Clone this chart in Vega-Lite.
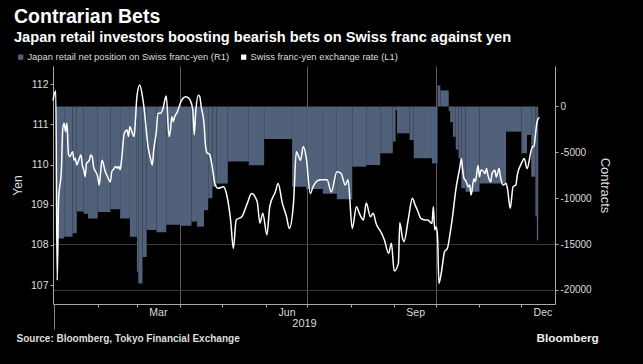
{
  "$schema": "https://vega.github.io/schema/vega-lite/v6.json",
  "width": 502,
  "height": 238,
  "autosize": {"type": "none"},
  "padding": {"left": 53, "top": 66, "right": 88, "bottom": 60},
  "background": "#000000",
  "config": {
    "view": {"stroke": null},
    "font": "Liberation Sans",
    "axis": {"labelFont": "Liberation Sans", "titleFont": "Liberation Sans", "domainColor": "#aaaaaa", "tickColor": "#aaaaaa", "labelColor": "#dddddd", "titleColor": "#dddddd", "titleFontWeight": "normal"}
  },
  "title": {
    "text": "Contrarian Bets",
    "subtitle": "Japan retail investors boosting bearish bets on Swiss franc against yen",
    "anchor": "start",
    "frame": "group",
    "dx": -39,
    "offset": 6,
    "font": "Liberation Sans",
    "fontSize": 19.5,
    "fontWeight": "bold",
    "color": "#ffffff",
    "subtitleFont": "Liberation Sans",
    "subtitleFontSize": 14.6,
    "subtitleFontWeight": "bold",
    "subtitleColor": "#ffffff",
    "subtitlePadding": 3
  },
  "datasets": {
    "positions": [
      {"start": "2019-01-02", "end": "2019-01-08", "pos": -14400},
      {"start": "2019-01-08", "end": "2019-01-14", "pos": -14200},
      {"start": "2019-01-14", "end": "2019-01-17", "pos": -13800},
      {"start": "2019-01-17", "end": "2019-01-22", "pos": -11450},
      {"start": "2019-01-22", "end": "2019-01-25", "pos": -11700},
      {"start": "2019-01-25", "end": "2019-02-01", "pos": -12200},
      {"start": "2019-02-01", "end": "2019-02-10", "pos": -11500},
      {"start": "2019-02-10", "end": "2019-02-17", "pos": -11200},
      {"start": "2019-02-17", "end": "2019-02-24", "pos": -12200},
      {"start": "2019-02-24", "end": "2019-03-01", "pos": -14200},
      {"start": "2019-03-01", "end": "2019-03-02", "pos": -18000},
      {"start": "2019-03-02", "end": "2019-03-05", "pos": -19300},
      {"start": "2019-03-05", "end": "2019-03-08", "pos": -16400},
      {"start": "2019-03-08", "end": "2019-03-15", "pos": -13450},
      {"start": "2019-03-15", "end": "2019-03-22", "pos": -13700},
      {"start": "2019-03-22", "end": "2019-04-01", "pos": -12900},
      {"start": "2019-04-01", "end": "2019-04-09", "pos": -13000},
      {"start": "2019-04-09", "end": "2019-04-13", "pos": -12550},
      {"start": "2019-04-13", "end": "2019-04-18", "pos": -13100},
      {"start": "2019-04-18", "end": "2019-04-21", "pos": -11300},
      {"start": "2019-04-21", "end": "2019-04-24", "pos": -10000},
      {"start": "2019-04-24", "end": "2019-04-27", "pos": -8740},
      {"start": "2019-04-27", "end": "2019-05-05", "pos": -8400},
      {"start": "2019-05-05", "end": "2019-05-20", "pos": -6000},
      {"start": "2019-05-20", "end": "2019-05-31", "pos": -6400},
      {"start": "2019-05-31", "end": "2019-06-20", "pos": -3550},
      {"start": "2019-06-20", "end": "2019-06-30", "pos": -8740},
      {"start": "2019-06-30", "end": "2019-07-12", "pos": -9000},
      {"start": "2019-07-12", "end": "2019-07-22", "pos": -9500},
      {"start": "2019-07-22", "end": "2019-08-02", "pos": -10100},
      {"start": "2019-08-02", "end": "2019-08-12", "pos": -6560},
      {"start": "2019-08-12", "end": "2019-08-22", "pos": -6380},
      {"start": "2019-08-22", "end": "2019-08-31", "pos": -5100},
      {"start": "2019-08-31", "end": "2019-09-02", "pos": -3830},
      {"start": "2019-09-02", "end": "2019-09-03", "pos": -400},
      {"start": "2019-09-03", "end": "2019-09-12", "pos": -2920},
      {"start": "2019-09-12", "end": "2019-09-15", "pos": -3650},
      {"start": "2019-09-15", "end": "2019-09-28", "pos": -5650},
      {"start": "2019-09-28", "end": "2019-10-02", "pos": -6200},
      {"start": "2019-10-02", "end": "2019-10-04", "pos": 2300},
      {"start": "2019-10-04", "end": "2019-10-10", "pos": 1750},
      {"start": "2019-10-10", "end": "2019-10-11", "pos": -500},
      {"start": "2019-10-11", "end": "2019-10-13", "pos": -1700},
      {"start": "2019-10-13", "end": "2019-10-15", "pos": -3300},
      {"start": "2019-10-15", "end": "2019-10-17", "pos": -4700},
      {"start": "2019-10-17", "end": "2019-10-19", "pos": -5650},
      {"start": "2019-10-19", "end": "2019-10-22", "pos": -8900},
      {"start": "2019-10-22", "end": "2019-11-01", "pos": -9300},
      {"start": "2019-11-01", "end": "2019-11-20", "pos": -8400},
      {"start": "2019-11-20", "end": "2019-12-01", "pos": -2740},
      {"start": "2019-12-01", "end": "2019-12-05", "pos": -5100},
      {"start": "2019-12-05", "end": "2019-12-08", "pos": -3100},
      {"start": "2019-12-08", "end": "2019-12-11", "pos": -7650},
      {"start": "2019-12-11", "end": "2019-12-12", "pos": -12000},
      {"start": "2019-12-12", "end": "2019-12-13", "pos": -14600}
    ],
    "fx": [
      {"date": "2018-12-31", "rate": 111.6},
      {"date": "2019-01-02", "rate": 111.84},
      {"date": "2019-01-03", "rate": 107.12},
      {"date": "2019-01-04", "rate": 109.12},
      {"date": "2019-01-06", "rate": 109.87},
      {"date": "2019-01-07", "rate": 110.9},
      {"date": "2019-01-08", "rate": 111.03},
      {"date": "2019-01-09", "rate": 110.82},
      {"date": "2019-01-10", "rate": 111.03},
      {"date": "2019-01-11", "rate": 110.28},
      {"date": "2019-01-12", "rate": 110.2},
      {"date": "2019-01-14", "rate": 110.32},
      {"date": "2019-01-15", "rate": 110.11},
      {"date": "2019-01-16", "rate": 110.16},
      {"date": "2019-01-17", "rate": 109.99},
      {"date": "2019-01-18", "rate": 110.07},
      {"date": "2019-01-20", "rate": 110.24},
      {"date": "2019-01-21", "rate": 109.99},
      {"date": "2019-01-22", "rate": 109.87},
      {"date": "2019-01-23", "rate": 109.7},
      {"date": "2019-01-24", "rate": 110.03},
      {"date": "2019-01-26", "rate": 110.11},
      {"date": "2019-01-27", "rate": 110.24},
      {"date": "2019-01-28", "rate": 110.2},
      {"date": "2019-01-29", "rate": 109.95},
      {"date": "2019-02-01", "rate": 109.7},
      {"date": "2019-02-02", "rate": 109.49},
      {"date": "2019-02-03", "rate": 109.78},
      {"date": "2019-02-04", "rate": 110.11},
      {"date": "2019-02-05", "rate": 110.03},
      {"date": "2019-02-06", "rate": 109.87},
      {"date": "2019-02-08", "rate": 109.7},
      {"date": "2019-02-10", "rate": 109.57},
      {"date": "2019-02-11", "rate": 109.82},
      {"date": "2019-02-12", "rate": 109.87},
      {"date": "2019-02-14", "rate": 109.95},
      {"date": "2019-02-15", "rate": 109.91},
      {"date": "2019-02-16", "rate": 109.95},
      {"date": "2019-02-17", "rate": 109.87},
      {"date": "2019-02-18", "rate": 110.11},
      {"date": "2019-02-20", "rate": 110.78},
      {"date": "2019-02-22", "rate": 110.86},
      {"date": "2019-02-23", "rate": 110.7},
      {"date": "2019-02-24", "rate": 110.95},
      {"date": "2019-02-25", "rate": 110.86},
      {"date": "2019-02-27", "rate": 110.7},
      {"date": "2019-02-28", "rate": 111.15},
      {"date": "2019-03-01", "rate": 111.69},
      {"date": "2019-03-03", "rate": 111.98},
      {"date": "2019-03-05", "rate": 111.69},
      {"date": "2019-03-06", "rate": 111.44},
      {"date": "2019-03-07", "rate": 111.11},
      {"date": "2019-03-09", "rate": 110.45},
      {"date": "2019-03-11", "rate": 110.11},
      {"date": "2019-03-12", "rate": 109.99},
      {"date": "2019-03-13", "rate": 110.36},
      {"date": "2019-03-15", "rate": 110.86},
      {"date": "2019-03-16", "rate": 111.28},
      {"date": "2019-03-18", "rate": 111.28},
      {"date": "2019-03-20", "rate": 111.44},
      {"date": "2019-03-21", "rate": 111.61},
      {"date": "2019-03-22", "rate": 111.71},
      {"date": "2019-03-24", "rate": 110.7},
      {"date": "2019-03-25", "rate": 110.86},
      {"date": "2019-03-26", "rate": 111.19},
      {"date": "2019-03-27", "rate": 111.07},
      {"date": "2019-03-28", "rate": 111.19},
      {"date": "2019-03-30", "rate": 111.32},
      {"date": "2019-04-01", "rate": 111.53},
      {"date": "2019-04-03", "rate": 111.65},
      {"date": "2019-04-05", "rate": 111.69},
      {"date": "2019-04-06", "rate": 111.68},
      {"date": "2019-04-08", "rate": 111.61},
      {"date": "2019-04-10", "rate": 111.36},
      {"date": "2019-04-11", "rate": 110.74},
      {"date": "2019-04-12", "rate": 111.28},
      {"date": "2019-04-14", "rate": 111.73},
      {"date": "2019-04-15", "rate": 111.69},
      {"date": "2019-04-16", "rate": 111.44},
      {"date": "2019-04-18", "rate": 111.03},
      {"date": "2019-04-19", "rate": 110.5},
      {"date": "2019-04-20", "rate": 110.3},
      {"date": "2019-04-22", "rate": 110.25},
      {"date": "2019-04-24", "rate": 109.92},
      {"date": "2019-04-26", "rate": 109.49},
      {"date": "2019-04-28", "rate": 109.41},
      {"date": "2019-05-02", "rate": 109.45},
      {"date": "2019-05-04", "rate": 109.28},
      {"date": "2019-05-07", "rate": 108.62},
      {"date": "2019-05-09", "rate": 107.91},
      {"date": "2019-05-11", "rate": 108.62},
      {"date": "2019-05-15", "rate": 108.7},
      {"date": "2019-05-19", "rate": 109.04},
      {"date": "2019-05-22", "rate": 109.28},
      {"date": "2019-05-26", "rate": 109.08},
      {"date": "2019-05-28", "rate": 108.54},
      {"date": "2019-05-30", "rate": 108.79},
      {"date": "2019-06-02", "rate": 108.25},
      {"date": "2019-06-04", "rate": 108.95},
      {"date": "2019-06-08", "rate": 109.32},
      {"date": "2019-06-10", "rate": 109.53},
      {"date": "2019-06-13", "rate": 109.04},
      {"date": "2019-06-16", "rate": 108.7},
      {"date": "2019-06-18", "rate": 108.41},
      {"date": "2019-06-21", "rate": 109.04},
      {"date": "2019-06-23", "rate": 110.32},
      {"date": "2019-06-26", "rate": 110.11},
      {"date": "2019-06-28", "rate": 110.45},
      {"date": "2019-06-30", "rate": 110.2},
      {"date": "2019-07-03", "rate": 109.28},
      {"date": "2019-07-05", "rate": 109.45},
      {"date": "2019-07-10", "rate": 109.62},
      {"date": "2019-07-15", "rate": 109.62},
      {"date": "2019-07-18", "rate": 109.32},
      {"date": "2019-07-22", "rate": 109.82},
      {"date": "2019-07-25", "rate": 109.78},
      {"date": "2019-07-28", "rate": 109.49},
      {"date": "2019-07-30", "rate": 109.62},
      {"date": "2019-08-02", "rate": 108.41},
      {"date": "2019-08-05", "rate": 108.95},
      {"date": "2019-08-07", "rate": 108.79},
      {"date": "2019-08-10", "rate": 108.62},
      {"date": "2019-08-12", "rate": 109.04},
      {"date": "2019-08-15", "rate": 108.7},
      {"date": "2019-08-17", "rate": 108.79},
      {"date": "2019-08-19", "rate": 108.54},
      {"date": "2019-08-23", "rate": 108.29},
      {"date": "2019-08-25", "rate": 108.12},
      {"date": "2019-08-28", "rate": 107.79},
      {"date": "2019-08-30", "rate": 108.04},
      {"date": "2019-09-01", "rate": 107.35},
      {"date": "2019-09-04", "rate": 107.54},
      {"date": "2019-09-05", "rate": 108.55},
      {"date": "2019-09-07", "rate": 108.16},
      {"date": "2019-09-08", "rate": 108.08},
      {"date": "2019-09-11", "rate": 108.62},
      {"date": "2019-09-14", "rate": 109.16},
      {"date": "2019-09-16", "rate": 108.99},
      {"date": "2019-09-18", "rate": 108.83},
      {"date": "2019-09-20", "rate": 108.66},
      {"date": "2019-09-23", "rate": 108.62},
      {"date": "2019-09-25", "rate": 108.62},
      {"date": "2019-09-28", "rate": 108.53},
      {"date": "2019-09-29", "rate": 108.95},
      {"date": "2019-09-30", "rate": 108.37},
      {"date": "2019-10-01", "rate": 108.45},
      {"date": "2019-10-02", "rate": 108.2},
      {"date": "2019-10-03", "rate": 107.04},
      {"date": "2019-10-05", "rate": 107.37},
      {"date": "2019-10-07", "rate": 107.83},
      {"date": "2019-10-09", "rate": 107.91},
      {"date": "2019-10-11", "rate": 108.29},
      {"date": "2019-10-13", "rate": 108.78},
      {"date": "2019-10-15", "rate": 109.36},
      {"date": "2019-10-18", "rate": 109.94},
      {"date": "2019-10-19", "rate": 110.15},
      {"date": "2019-10-20", "rate": 109.86},
      {"date": "2019-10-21", "rate": 109.65},
      {"date": "2019-10-22", "rate": 109.61},
      {"date": "2019-10-24", "rate": 109.45},
      {"date": "2019-10-25", "rate": 109.49},
      {"date": "2019-10-26", "rate": 109.24},
      {"date": "2019-10-28", "rate": 109.65},
      {"date": "2019-10-29", "rate": 109.57},
      {"date": "2019-10-31", "rate": 109.98},
      {"date": "2019-11-01", "rate": 109.69},
      {"date": "2019-11-02", "rate": 109.86},
      {"date": "2019-11-03", "rate": 109.86},
      {"date": "2019-11-05", "rate": 109.78},
      {"date": "2019-11-06", "rate": 109.9},
      {"date": "2019-11-07", "rate": 109.74},
      {"date": "2019-11-09", "rate": 109.57},
      {"date": "2019-11-10", "rate": 109.78},
      {"date": "2019-11-12", "rate": 109.86},
      {"date": "2019-11-13", "rate": 109.69},
      {"date": "2019-11-15", "rate": 109.9},
      {"date": "2019-11-16", "rate": 109.69},
      {"date": "2019-11-18", "rate": 109.49},
      {"date": "2019-11-20", "rate": 109.53},
      {"date": "2019-11-21", "rate": 109.4},
      {"date": "2019-11-23", "rate": 108.91},
      {"date": "2019-11-25", "rate": 109.45},
      {"date": "2019-11-27", "rate": 109.49},
      {"date": "2019-11-28", "rate": 109.74},
      {"date": "2019-12-01", "rate": 110.03},
      {"date": "2019-12-03", "rate": 110.15},
      {"date": "2019-12-05", "rate": 109.9},
      {"date": "2019-12-08", "rate": 110.36},
      {"date": "2019-12-09", "rate": 110.45},
      {"date": "2019-12-10", "rate": 110.45},
      {"date": "2019-12-11", "rate": 110.74},
      {"date": "2019-12-12", "rate": 111.03},
      {"date": "2019-12-13", "rate": 111.15},
      {"date": "2019-12-14", "rate": 111.17}
    ]
  },
  "resolve": {"scale": {"y": "independent"}, "axis": {"x": "independent"}},
  "layer": [
    {
      "data": {"name": "positions"},
      "transform": [{"filter": "datum.pos < 0"}],
      "mark": {"type": "bar"},
      "encoding": {
        "x": {
          "field": "start", "type": "temporal",
          "scale": {"type": "utc", "domain": [{"year": 2018, "month": 12, "date": 31, "utc": true}, {"year": 2019, "month": 12, "date": 25, "utc": true}]},
          "axis": {
            "orient": "bottom",
            "values": [
              {"year": 2019, "month": 2, "date": 1, "utc": true},
              {"year": 2019, "month": 3, "date": 1, "utc": true},
              {"year": 2019, "month": 4, "date": 1, "utc": true},
              {"year": 2019, "month": 5, "date": 1, "utc": true},
              {"year": 2019, "month": 6, "date": 1, "utc": true},
              {"year": 2019, "month": 7, "date": 1, "utc": true},
              {"year": 2019, "month": 8, "date": 1, "utc": true},
              {"year": 2019, "month": 9, "date": 1, "utc": true},
              {"year": 2019, "month": 10, "date": 1, "utc": true},
              {"year": 2019, "month": 11, "date": 1, "utc": true},
              {"year": 2019, "month": 12, "date": 1, "utc": true}
            ],
            "labels": false,
            "tickSize": 3,
            "grid": true,
            "gridColor": "#5a5a5a",
            "gridOpacity": {"condition": {"test": "utcmonth(datum.value) % 3 == 0", "value": 1}, "value": 0},
            "title": "2019",
            "titleFontSize": 11,
            "titleX": 251,
            "titleY": 13,
            "titleBaseline": "top"
          }
        },
        "x2": {"field": "end"},
        "y": {
          "field": "pos", "type": "quantitative",
          "scale": {"domain": [-21526, 4414], "nice": false, "zero": false},
          "axis": {
            "orient": "right",
            "values": [0, -5000, -10000, -15000, -20000],
            "labelExpr": "'' + datum.value",
            "labelFontSize": 10,
            "tickSize": 3,
            "grid": true,
            "gridColor": "#3a3a3a",
            "gridOpacity": {"condition": {"test": "datum.value <= -15000", "value": 1}, "value": 0},
            "title": "Contracts",
            "titleFontSize": 13,
            "titlePadding": 6
          }
        },
        "y2": {"datum": 0},
        "color": {
          "datum": "Japan retail net position on Swiss franc-yen (R1)",
          "type": "nominal",
          "scale": {"domain": ["Japan retail net position on Swiss franc-yen (R1)", "Swiss franc-yen exchange rate (L1)"], "range": ["#52617a", "#ffffff"]},
          "legend": {
            "orient": "none", "legendX": -37, "legendY": -14, "direction": "horizontal",
            "title": null, "symbolType": "square", "symbolSize": 28, "symbolStrokeWidth": 0,
            "labelFontSize": 9.4, "labelColor": "#dddddd", "labelFont": "Liberation Sans", "labelLimit": 400,
            "columnPadding": 9, "labelOffset": 2
          }
        }
      }
    },
    {
      "data": {"name": "positions"},
      "transform": [{"filter": "datum.pos >= 0"}],
      "mark": {"type": "bar"},
      "encoding": {
        "x": {
          "field": "start", "type": "temporal",
          "axis": {
            "orient": "bottom",
            "values": [
              {"year": 2019, "month": 3, "date": 16, "utc": true},
              {"year": 2019, "month": 6, "date": 16, "utc": true},
              {"year": 2019, "month": 9, "date": 16, "utc": true},
              {"year": 2019, "month": 12, "date": 16, "utc": true}
            ],
            "format": "%b",
            "ticks": false,
            "domain": false,
            "grid": false,
            "labelFontSize": 10.5,
            "labelPadding": 3,
            "labelFlush": false,
            "labelOverlap": false,
            "title": "Source: Bloomberg, Tokyo Financial Exchange",
            "titleFontWeight": "bold",
            "titleFontSize": 10,
            "titleX": -37,
            "titleY": 37,
            "titleAlign": "left",
            "titleBaseline": "alphabetic"
          }
        },
        "x2": {"field": "end"},
        "y": {
          "field": "pos", "type": "quantitative",
          "scale": {"domain": [-21526, 4414], "nice": false, "zero": false},
          "axis": null
        },
        "y2": {"datum": 0},
        "color": {"datum": "Japan retail net position on Swiss franc-yen (R1)", "type": "nominal", "legend": null}
      }
    },
    {
      "data": {"name": "fx"},
      "mark": {"type": "line", "strokeWidth": 1.5, "interpolate": "monotone"},
      "encoding": {
        "x": {
          "field": "date", "type": "temporal",
          "axis": {
            "orient": "bottom",
            "values": [{"year": 2019, "month": 1, "date": 1, "utc": true}],
            "labels": false,
            "domain": false,
            "grid": false,
            "tickSize": 25,
            "tickColor": "#888888",
            "title": "Bloomberg",
            "titleFontWeight": "bold",
            "titleFontSize": 11.8,
            "titleColor": "#eeeeee",
            "titleX": 483,
            "titleY": 37,
            "titleAlign": "left",
            "titleBaseline": "alphabetic"
          }
        },
        "y": {
          "field": "rate", "type": "quantitative",
          "scale": {"domain": [106.527, 112.456], "nice": false, "zero": false},
          "axis": {
            "orient": "left",
            "values": [107, 108, 109, 110, 111, 112],
            "format": "d",
            "labelFontSize": 10.5,
            "tickSize": 3,
            "grid": false,
            "title": "Yen",
            "titleFontSize": 12,
            "titlePadding": 6
          }
        },
        "color": {"datum": "Swiss franc-yen exchange rate (L1)", "type": "nominal"}
      }
    }
  ]
}
